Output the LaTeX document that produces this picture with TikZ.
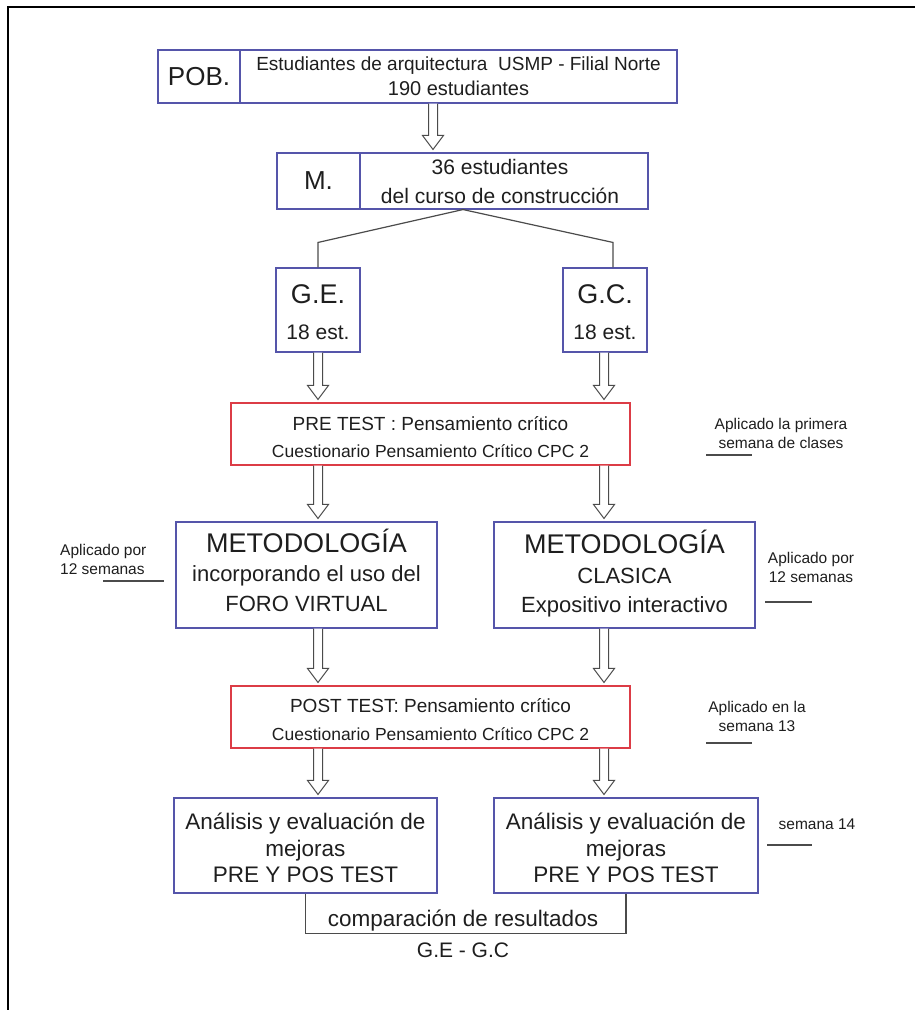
\documentclass[tikz,border=0pt]{standalone}
\usepackage{fontspec}
\setmainfont{Liberation Sans}
\usetikzlibrary{calc}

\definecolor{boxblue}{RGB}{85,85,170}
\definecolor{boxred}{RGB}{220,60,70}
\definecolor{ink}{RGB}{30,30,30}
\definecolor{linegrey}{RGB}{75,75,75}

% font size / baseline skip in pt
\newcommand\fsz[2]{\fontsize{#1pt}{#2pt}\selectfont}

% hollow block arrow pointing down, from #1 (top of shaft) to #2 (tip)
\newcommand\hollowdown[2]{%
  \draw[hollow] let \p1=#1, \p2=#2 in
    ({\x1-4.5pt},\y1) -- ({\x1-4.5pt},{\y2+14pt}) -- ({\x1-10.5pt},{\y2+14pt})
    -- (\x1,\y2) -- ({\x1+10.5pt},{\y2+14pt}) -- ({\x1+4.5pt},{\y2+14pt})
    -- ({\x1+4.5pt},\y1);}

\tikzset{
  box/.style={draw, rectangle, inner sep=0pt, line width=1.1pt},
  bluebox/.style={box, draw=boxblue},
  redbox/.style={box, draw=boxred},
  hollow/.style={draw=linegrey, line width=1pt, fill=white, line join=miter},
  conn/.style={draw=linegrey, line width=1.2pt},
  plain/.style={inner sep=0pt, align=center, text=ink},
  note/.style={plain, font=\fsz{15.5}{19}},
  underline/.style={draw=linegrey, line width=1.3pt},
}

\begin{document}
\begin{tikzpicture}[x=1pt, y=-1pt]
\useasboundingbox (0,0) rectangle (915,1010);

% outer frame (left and top edges)
\draw[line width=2pt, black] (8,1010) -- (8,7) -- (915,7);

% column guides
\coordinate (xt) at (433,0);
\coordinate (xl) at (318,0);
\coordinate (xr) at (604,0);
\coordinate (xa) at (463,0);

% population
\node[bluebox, minimum width=82pt, minimum height=53pt] (pob) at (199,76.5) {};
\node[plain, font=\fsz{26}{30}] (pobl) at (pob.center) {POB.};
\node[bluebox, minimum width=437pt, minimum height=53pt] (pobtxt) at (458.5,76.5) {};
\node[plain, font=\fsz{19}{25}] (pobt) at ($(pobtxt.center)+(0,0)$)
  {Estudiantes de arquitectura\ \ USMP - Filial Norte\\\fsz{20}{25}190 estudiantes};

% sample
\node[bluebox, minimum width=83pt, minimum height=56pt] (m) at (318.5,181) {};
\node[plain, font=\fsz{26}{30}] (ml) at (m.center) {M.};
\node[bluebox, minimum width=288pt, minimum height=56pt] (mtxt) at (504,181) {};
\node[plain, font=\fsz{21}{29}] (mt) at ($(mtxt.center)+(-4,0)$)
  {36 estudiantes\\del curso de construcción};

% groups
\node[bluebox, minimum width=84pt, minimum height=84pt] (ge) at (318,310) {};
\node[plain, font=\fsz{27}{36}] (get) at ($(ge.center)+(0,2)$) {G.E.\\\fsz{21}{36}18 est.};
\node[bluebox, minimum width=84pt, minimum height=84pt] (gc) at (605,310) {};
\node[plain, font=\fsz{27}{36}] (gct) at ($(gc.center)+(0,2)$) {G.C.\\\fsz{21}{36}18 est.};

% pre test
\node[redbox, minimum width=399pt, minimum height=62pt] (pre) at (430.5,434) {};
\node[plain, font=\fsz{19}{27}] (pret) at ($(pre.center)+(0,3)$)
  {PRE TEST : Pensamiento crítico\\\fsz{17.5}{27}Cuestionario Pensamiento Crítico CPC 2};

% methodologies
\node[bluebox, minimum width=261pt, minimum height=106pt] (met1) at (306.5,575) {};
\node[plain, font=\fsz{27}{29.5}] (met1t) at ($(met1.center)+(0,-5)$)
  {METODOLOGÍA\\\fsz{22}{29.5}incorporando el uso del\\\fsz{22}{29.5}FORO VIRTUAL};
\node[bluebox, minimum width=261pt, minimum height=106pt] (met2) at (624.5,575) {};
\node[plain, font=\fsz{27}{29.5}] (met2t) at ($(met2.center)+(0,-1)$)
  {METODOLOGÍA\\\fsz{22}{29.5}CLASICA\\\fsz{22}{29.5}Expositivo interactivo};

% post test
\node[redbox, minimum width=399pt, minimum height=62pt] (post) at (430.5,717) {};
\node[plain, font=\fsz{19}{28}] (postt) at ($(post.center)+(0,3)$)
  {POST TEST: Pensamiento crítico\\\fsz{17.5}{28}Cuestionario Pensamiento Crítico CPC 2};

% analysis
\node[bluebox, minimum width=263pt, minimum height=95pt] (an1) at (305.5,845.5) {};
\node[plain, font=\fsz{22.5}{26.5}] (an1t) at ($(an1.center)+(0,2.5)$)
  {Análisis y evaluación de\\mejoras\\PRE Y POS TEST};
\node[bluebox, minimum width=264pt, minimum height=95pt] (an2) at (626,845.5) {};
\node[plain, font=\fsz{22.5}{26.5}] (an2t) at ($(an2.center)+(0,2.5)$)
  {Análisis y evaluación de\\mejoras\\PRE Y POS TEST};

% block arrows
\hollowdown{(xt |- pobtxt.south)}{($(xt |- mtxt.north)+(0,-3)$)}
\hollowdown{(xl |- ge.south)}{($(xl |- pre.north)+(0,-3)$)}
\hollowdown{(xr |- gc.south)}{($(xr |- pre.north)+(0,-3)$)}
\hollowdown{(xl |- pre.south)}{($(xl |- met1.north)+(0,-3)$)}
\hollowdown{(xr |- pre.south)}{($(xr |- met2.north)+(0,-3)$)}
\hollowdown{(xl |- met1.south)}{($(xl |- post.north)+(0,-3)$)}
\hollowdown{(xr |- met2.south)}{($(xr |- post.north)+(0,-3)$)}
\hollowdown{(xl |- post.south)}{($(xl |- an1.north)+(0,-3)$)}
\hollowdown{(xr |- post.south)}{($(xr |- an2.north)+(0,-3)$)}

% split of the sample into two groups
\coordinate (apex) at (xa |- mtxt.south);
\draw[conn] (ge.north) -- ++(0,-25) -- (apex) -- ($(gc.north)+(8,-25)$) -- ($(gc.north)+(8,0)$);

% comparison bracket
\draw[conn] (an1.south) -- ++(0,40) -| (an2.south);
\node[plain, font=\fsz{22.5}{25}] (cmp) at (463,921) {comparación de resultados};
\node[plain, font=\fsz{21}{24}] (cmpg) at (463,950) {G.E - G.C};

% side notes
\node[note] (n1) at (781,433) {Aplicado la primera\\semana de clases};
\draw[underline] (706,455) -- (752,455);

\node[note, align=left, anchor=west] (n2) at (60,559) {Aplicado por\\12 semanas};
\draw[underline] (103,581) -- (164,581);

\node[note] (n3) at (811,567) {Aplicado por\\12 semanas};
\draw[underline] (765,602) -- (812,602);

\node[note] (n4) at (757,716) {Aplicado en la\\semana 13};
\draw[underline] (706,743) -- (752,743);

\node[note] (n5) at (817,824) {semana 14};
\draw[underline] (767,845) -- (812,845);
\end{tikzpicture}
\end{document}
